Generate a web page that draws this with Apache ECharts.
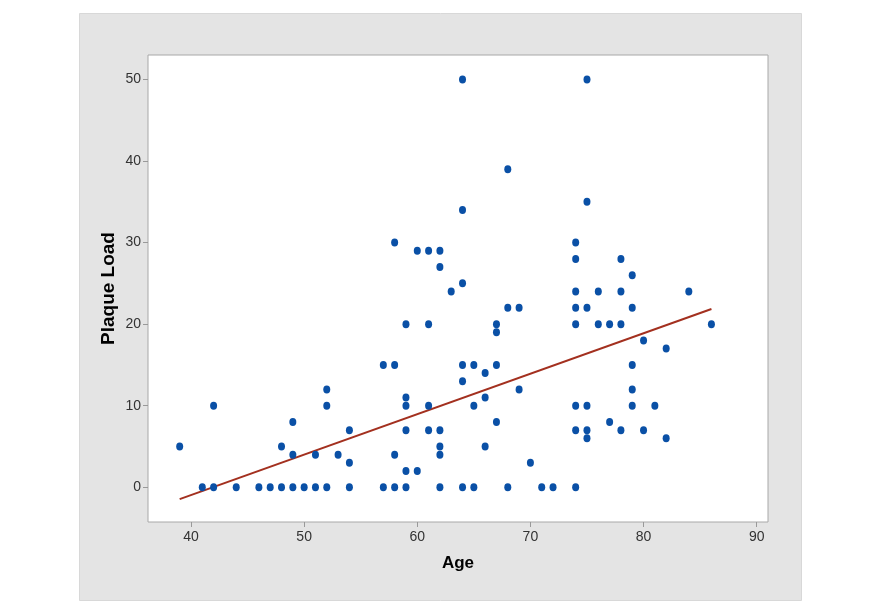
<!DOCTYPE html>
<html>
<head>
<meta charset="utf-8">
<script src="https://cdn.jsdelivr.net/npm/echarts@6/dist/echarts.min.js"></script>
<style>
html,body{margin:0;padding:0;background:#fff;}
#chart{width:886px;height:611px;}
</style>
</head>
<body>
<div id="chart"></div>
<script>
// Data
const ages = [
  39, 41, 42, 42, 44, 46, 47, 48, 48, 49, 49, 49, 50, 51, 51, 52, 52, 52, 53,
  54, 54, 54, 57, 57, 58, 58, 58, 58, 59, 59, 59, 59, 59, 59, 60, 60,
  61, 61, 61, 61, 62, 62, 62, 62, 62, 62, 63, 64, 64, 64, 64, 64, 64,
  65, 65, 65, 66, 66, 66, 67, 67, 67, 67, 68, 68, 68, 69, 69, 70, 71, 72,
  74, 74, 74, 74, 74, 74, 74, 74, 75, 75, 75, 75, 75, 75, 76, 76, 77, 77,
  78, 78, 78, 78, 79, 79, 79, 79, 79, 80, 80, 81, 82, 82, 84, 86
];
const plaqueLoad = [
  5, 0, 0, 10, 0, 0, 0, 0, 5, 0, 4, 8, 0, 0, 4, 0, 10, 12, 4,
  0, 3, 7, 0, 15, 0, 4, 15, 30, 0, 2, 7, 10, 11, 20, 2, 29,
  7, 10, 20, 29, 0, 4, 5, 7, 27, 29, 24, 0, 13, 15, 25, 34, 50,
  0, 10, 15, 5, 11, 14, 8, 15, 19, 20, 0, 22, 39, 12, 22, 3, 0, 0,
  0, 7, 10, 20, 22, 24, 28, 30, 6, 7, 10, 22, 35, 50, 20, 24, 8, 20,
  7, 20, 24, 28, 10, 12, 15, 22, 26, 7, 18, 10, 6, 17, 24, 20
];
// Fitted line end points
const fitAges = [39, 86];
const fitValues = [-1.45, 21.85];
const xTicks = [40, 50, 60, 70, 80, 90];
const yTicks = [0, 10, 20, 30, 40, 50];

const points = ages.map((a, i) => [a, plaqueLoad[i]]);
const fitPoints = fitAges.map((a, i) => [a, fitValues[i]]);

const chart = echarts.init(document.getElementById('chart'), null, {renderer: 'canvas'});
const labelFont = {fontFamily: '"Liberation Sans", Arial, sans-serif', fontSize: 14, color: '#333'};
chart.setOption({
  animation: false,
  backgroundColor: '#ffffff',
  graphic: [{
    type: 'rect', z: -10, silent: true,
    shape: {x: 79.5, y: 13.5, width: 722, height: 587},
    style: {fill: '#e4e4e4', stroke: '#d8d8d8', lineWidth: 1}
  }],
  grid: {
    left: 148, top: 55, width: 620, height: 467,
    show: true, backgroundColor: '#ffffff', borderColor: '#a8a8a8', borderWidth: 1
  },
  xAxis: {
    type: 'value', min: 36.2, max: 91.0,
    name: 'Age', nameLocation: 'middle', nameGap: 33, nameMoveOverlap: false,
    nameTextStyle: {fontFamily: '"Liberation Sans", Arial, sans-serif', fontSize: 17, fontWeight: 'bold', color: '#000'},
    axisLine: {show: false, onZero: false},
    splitLine: {show: false},
    axisTick: {show: true, length: 5, lineStyle: {color: '#999'}, customValues: xTicks},
    axisLabel: Object.assign({margin: 8, customValues: xTicks}, labelFont)
  },
  yAxis: {
    type: 'value', min: -4.26, max: 53.0,
    name: 'Plaque Load', nameLocation: 'middle', nameGap: 30, nameRotate: 90, nameMoveOverlap: false,
    nameTextStyle: {fontFamily: '"Liberation Sans", Arial, sans-serif', fontSize: 19, fontWeight: 'bold', color: '#000'},
    axisLine: {show: false, onZero: false},
    splitLine: {show: false},
    axisTick: {show: true, length: 5, lineStyle: {color: '#999'}, customValues: yTicks},
    axisLabel: Object.assign({margin: 7, customValues: yTicks}, labelFont)
  },
  series: [
    {
      type: 'line', data: fitPoints, symbol: 'none', silent: true, z: 3,
      lineStyle: {color: '#a3301f', width: 2}
    },
    {
      type: 'scatter', data: points, symbol: 'circle', symbolSize: [7, 8], z: 4,
      itemStyle: {color: '#0a50a6', opacity: 1}
    }
  ]
});
</script>
</body>
</html>
